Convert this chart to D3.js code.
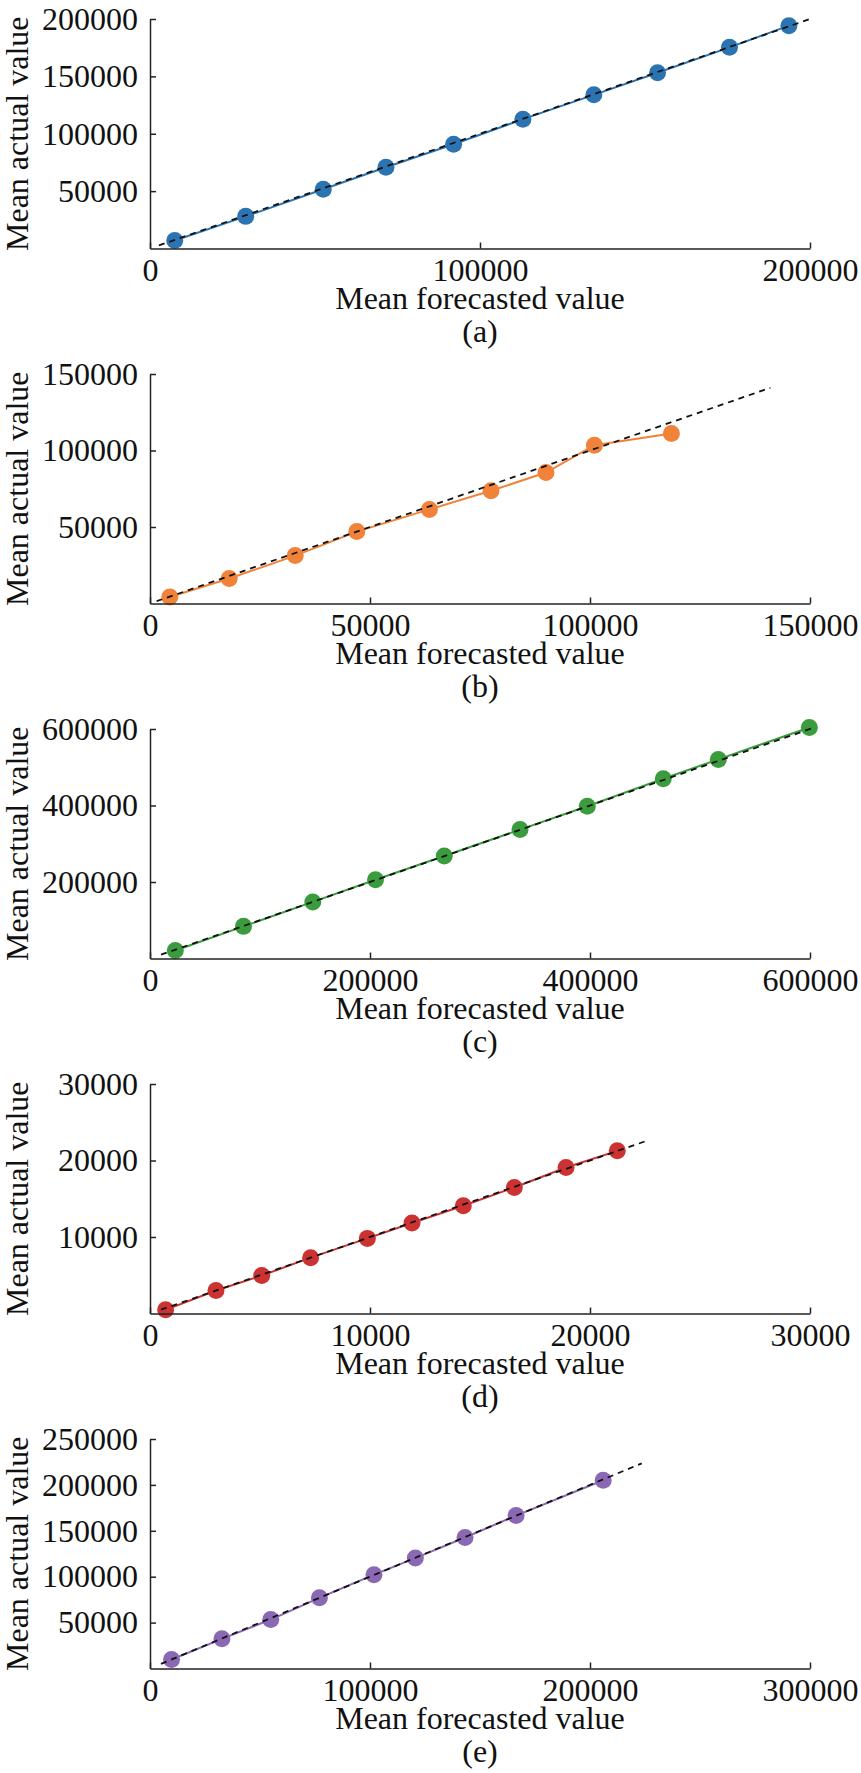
<!DOCTYPE html>
<html>
<head>
<meta charset="utf-8">
<script src="https://cdn.jsdelivr.net/npm/d3@7"></script>
<style>
  body { margin: 0; background: #fff; }
  .axis path, .axis line { stroke: #222; stroke-width: 1.5; }
</style>
</head>
<body>
<svg id="chart" width="861" height="1773"></svg>
<script>
const FONT = "'Liberation Serif', 'Times New Roman', 'DejaVu Serif', serif";

// panel captions and colours
const captions = ["(a)", "(b)", "(c)", "(d)", "(e)"];
const colors = ["#2b74b1", "#f0823a", "#3b9c3e", "#cc3232", "#8a68b3"];

// mean forecasted (x) / mean actual (y) for each panel
const forecastA = [7500, 29000, 52500, 71500, 92000, 113000, 134500, 153800, 175600, 193600];
const actualA   = [7000, 28000, 51600, 70800, 90800, 112700, 133900, 153100, 175300, 194200];

const forecastB = [4500, 18000, 33000, 47000, 63500, 77500, 90000, 101000, 118500];
const actualB   = [4300, 16300, 31300, 47000, 61500, 73700, 85600, 103500, 111100];

const forecastC = [23000, 85000, 148000, 205000, 267500, 336400, 397500, 466600, 516600, 599400];
const actualC   = [21000, 84000, 148000, 206000, 268000, 337000, 398000, 470000, 520500, 604000];

const forecastD = [710, 3000, 5080, 7300, 9880, 11910, 14240, 16560, 18910, 21240];
const actualD   = [480, 3000, 4960, 7300, 9820, 11830, 14090, 16470, 19080, 21260];

const forecastE = [9800, 32700, 54900, 77000, 101800, 120600, 143200, 166400, 206000];
const actualE   = [9800, 32300, 53300, 77000, 102200, 120300, 142700, 166600, 205100];

// y = x reference segment (start, end) per panel
const refA = [2700, 200000];
const refB = [1500, 141000];
const refC = [10000, 603000];
const refD = [500, 22500];
const refE = [5000, 223500];

// axis tick values
const xTicksA = [0, 100000, 200000];
const yTicksA = [50000, 100000, 150000, 200000];
const xTicksB = [0, 50000, 100000, 150000];
const yTicksB = [50000, 100000, 150000];
const xTicksC = [0, 200000, 400000, 600000];
const yTicksC = [200000, 400000, 600000];
const xTicksD = [0, 10000, 20000, 30000];
const yTicksD = [10000, 20000, 30000];
const xTicksE = [0, 100000, 200000, 300000];
const yTicksE = [50000, 100000, 150000, 200000, 250000];

const panels = [
  { fx: forecastA, ay: actualA, ref: refA, xt: xTicksA, yt: yTicksA },
  { fx: forecastB, ay: actualB, ref: refB, xt: xTicksB, yt: yTicksB },
  { fx: forecastC, ay: actualC, ref: refC, xt: xTicksC, yt: yTicksC },
  { fx: forecastD, ay: actualD, ref: refD, xt: xTicksD, yt: yTicksD },
  { fx: forecastE, ay: actualE, ref: refE, xt: xTicksE, yt: yTicksE }
];

const svg = d3.select("#chart");
const left = 150, right = 810, plotH = 229.5, firstTop = 19, pitch = 355;

panels.forEach((p, i) => {
  const top = firstTop + i * pitch;
  const bottom = top + plotH;

  const x = d3.scaleLinear()
    .domain([0, d3.max(p.xt)])
    .range([left, right]);
  const y = d3.scaleLinear()
    .domain([0, d3.max(p.yt)])
    .range([bottom, top]);

  const g = svg.append("g");
  const pts = p.fx.map((v, k) => [v, p.ay[k]]);

  // series line
  g.append("path")
    .datum(pts)
    .attr("fill", "none")
    .attr("stroke", colors[i])
    .attr("stroke-width", 2)
    .attr("d", d3.line().x(d => x(d[0])).y(d => y(d[1])));

  // markers
  g.selectAll("circle")
    .data(pts)
    .join("circle")
    .attr("cx", d => x(d[0]))
    .attr("cy", d => y(d[1]))
    .attr("r", 8.5)
    .attr("fill", colors[i]);

  // y = x dashed reference
  g.append("path")
    .datum(p.ref)
    .attr("fill", "none")
    .attr("stroke", "#111")
    .attr("stroke-width", 1.8)
    .attr("stroke-dasharray", "6,5")
    .attr("d", d3.line().x(d => x(d)).y(d => y(d)));

  // axes, ticks pointing inward
  const xa = g.append("g")
    .attr("class", "axis")
    .attr("transform", `translate(0,${bottom})`)
    .call(d3.axisBottom(x).tickValues(p.xt).tickFormat(d3.format("d"))
      .tickSizeInner(-6).tickSizeOuter(0).tickPadding(10));

  const ya = g.append("g")
    .attr("class", "axis")
    .attr("transform", `translate(${left},0)`)
    .call(d3.axisLeft(y).tickValues(p.yt).tickFormat(d3.format("d"))
      .tickSizeInner(-6).tickSizeOuter(0).tickPadding(12));

  [xa, ya].forEach(a => a.attr("font-family", FONT).attr("font-size", 32)
    .selectAll("text").attr("fill", "#111"));

  // labels
  g.append("text")
    .attr("x", (left + right) / 2)
    .attr("y", bottom + 60)
    .attr("text-anchor", "middle")
    .attr("font-family", FONT)
    .attr("font-size", 32)
    .attr("fill", "#111")
    .text("Mean forecasted value");

  g.append("text")
    .attr("x", (left + right) / 2)
    .attr("y", bottom + 93)
    .attr("text-anchor", "middle")
    .attr("font-family", FONT)
    .attr("font-size", 32)
    .attr("fill", "#111")
    .text(captions[i]);

  g.append("text")
    .attr("transform", `translate(28,${(top + bottom) / 2}) rotate(-90)`)
    .attr("text-anchor", "middle")
    .attr("font-family", FONT)
    .attr("font-size", 32)
    .attr("fill", "#111")
    .text("Mean actual value");
});
</script>
</body>
</html>
